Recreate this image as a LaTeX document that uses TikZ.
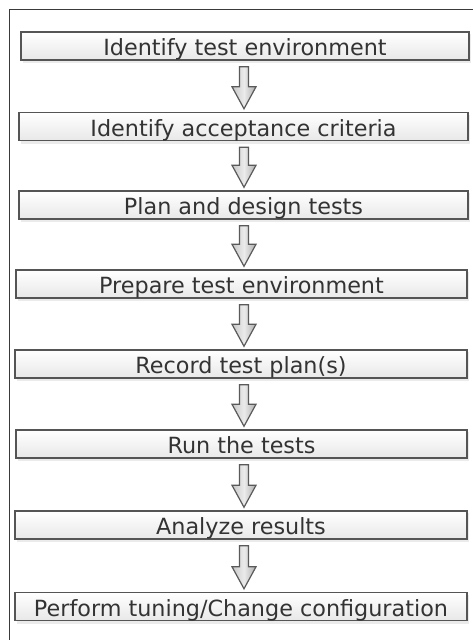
\documentclass[tikz,border=0pt]{standalone}
\usepackage{fontspec}
\setmainfont{DejaVu Sans}
\usetikzlibrary{calc}
\definecolor{framec}{HTML}{3A3A3A}
\definecolor{boxline}{HTML}{555555}
\definecolor{txt}{HTML}{333333}
\definecolor{arrowline}{HTML}{5A5A5A}
\tikzset{
  stepbox/.style={draw=boxline, line width=1.5pt, rectangle, minimum height=28pt,
    top color=white, bottom color=black!9, text=txt, inner sep=0pt,
    text height=19pt, text depth=0pt,
    font=\fontsize{22.3}{24}\selectfont},
  shadowbox/.style={fill=black!8},
  blockarr/.style={draw=arrowline, line width=1.2pt, line join=miter,
    left color=black!22, right color=black!32, middle color=black!8},
}
\newcommand{\blockarrow}[2]{%
  \path let \p1=(#1.south), \p2=(#2.north), \p3=(ax) in
    coordinate (s1) at (\x3-4.5,\y1-6)
    coordinate (s2) at (\x3+4.5,\y1-6)
    coordinate (tip) at (\x3,\y2+3);
  \draw[blockarr] (s1) -- (s2) -- ($(s2|-tip)+(0,-22)$) -- ($(tip)+(12,-22)$)
     -- (tip) -- ($(tip)+(-12,-22)$) -- ($(s1|-tip)+(0,-22)$) -- cycle;
}
\begin{document}
\begin{tikzpicture}[x=1pt,y=-1pt]
\useasboundingbox (0,0) rectangle (473,640);
\fill[white] (0,0) rectangle (473,640);
\draw[framec, line width=1pt] (9,660) -- (9,9) -- (490,9);
\coordinate (ax) at (244,0);
\foreach \cx/\cy/\w/\n/\t in {
  245/46/448/b1/{Identify test environment},
  243.5/126.5/449/b2/{Identify acceptance criteria},
  243.5/205/449/b3/{Plan and design tests},
  241.5/284/451/b4/{Prepare test environment},
  241/364/452/b5/{Record test plan(s)},
  241.5/444/451/b6/{Run the tests},
  241/525/452/b7/{Analyze results},
  241/606.5/452/b8/{Perform tuning/Change configuration}}{
  \fill[shadowbox] (\cx-\w/2+2,\cy-14+2) rectangle (\cx+\w/2+2,\cy+14+3);
  \node[stepbox, minimum width=\w pt] (\n) at (\cx,\cy) {\t};
}
\blockarrow{b1}{b2}
\blockarrow{b2}{b3}
\blockarrow{b3}{b4}
\blockarrow{b4}{b5}
\blockarrow{b5}{b6}
\blockarrow{b6}{b7}
\blockarrow{b7}{b8}
\end{tikzpicture}
\end{document}
